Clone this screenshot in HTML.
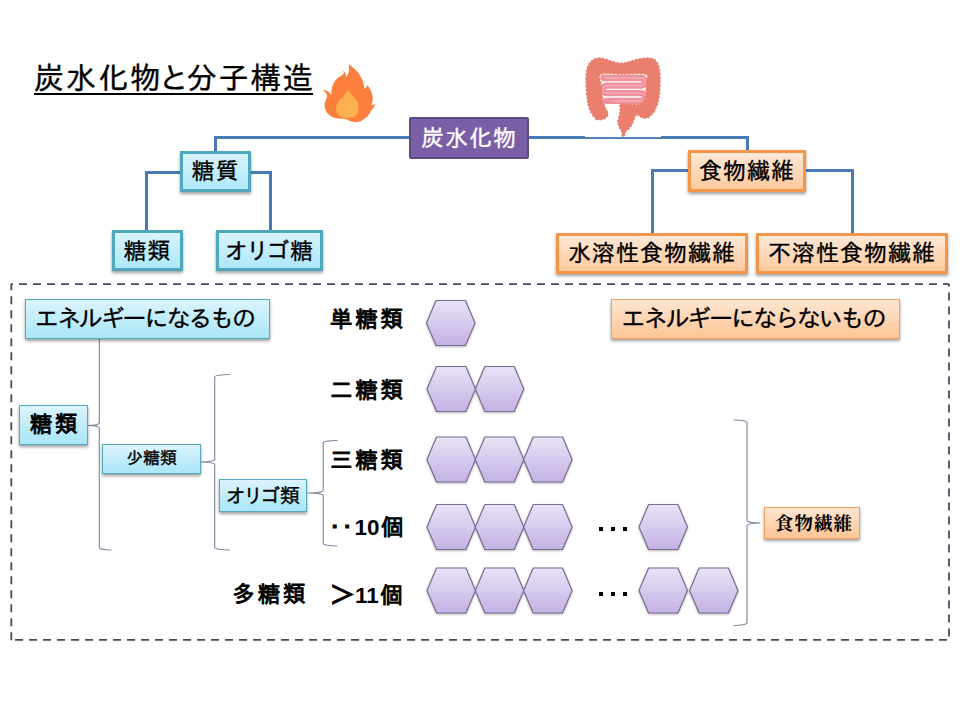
<!DOCTYPE html>
<html lang="ja">
<head>
<meta charset="utf-8">
<title>炭水化物と分子構造</title>
<style>
html,body{margin:0;padding:0;background:#fff;}
body{width:960px;height:720px;overflow:hidden;position:relative;
  font-family:"Liberation Sans","IPAGothic","Noto Sans CJK JP",sans-serif;color:#000;}
#slide{position:absolute;left:0;top:0;width:960px;height:720px;overflow:hidden;background:#fff;}
svg.layer{position:absolute;left:0;top:0;}
.t{position:absolute;white-space:nowrap;line-height:1;}
.box{position:absolute;box-sizing:border-box;display:flex;align-items:center;justify-content:center;
  white-space:nowrap;line-height:1;font-size:24px;}
.teal,.orange,.purple{font-size:23px;letter-spacing:1px;}
.teal{border:3px solid #4fa8bc;background:linear-gradient(#d9f3fc,#aee8f9);box-shadow:0 2px 3px rgba(0,0,0,.38);}
.orange{border:3px solid #f3954a;background:linear-gradient(#fee9d7,#fdc99c);box-shadow:0 2px 3px rgba(0,0,0,.38);}
.purple{border:2px solid #5f4a80;background:#7b5fa6;color:#fff;border-radius:2px;}
.teal1{border:1px solid #55a9bd;background:linear-gradient(#dcf4fc,#a9e6f8);box-shadow:0 2px 3px rgba(0,0,0,.38);}
.orange1{border:1px solid #f2a063;background:linear-gradient(#fee6d2,#fdc595);box-shadow:0 2px 3px rgba(0,0,0,.38);}
.lbl{font-weight:normal;font-size:22.5px;-webkit-text-stroke:0.95px #000;letter-spacing:2.8px;}
.lbl b{font-weight:bold;-webkit-text-stroke:0;}
#title{left:34px;top:62.5px;font-size:30.5px;letter-spacing:1.5px;}
.k{-webkit-text-stroke:0.33px currentColor;}
.nar{letter-spacing:-2.1px;-webkit-text-stroke:0.32px #000;}
</style>
</head>
<body>
<div id="slide">

<svg class="layer" width="960" height="720" viewBox="0 0 960 720">
  <defs>
    <linearGradient id="hx" x1="0" y1="0" x2="0" y2="1">
      <stop offset="0" stop-color="#e9e3f6"/>
      <stop offset="1" stop-color="#c3b2e4"/>
    </linearGradient>
  </defs>

  <!-- dashed frame -->
  <g id="frame" fill="none" stroke="#424d60" stroke-width="1.8" stroke-dasharray="8 6">
    <line x1="11" y1="284.2" x2="949.2" y2="284.2" stroke-dashoffset="6"/>
    <line x1="11.3" y1="284" x2="11.3" y2="640.5" stroke-dashoffset="1.75"/>
    <line x1="949" y1="284" x2="949" y2="640.5" stroke-dashoffset="5.5"/>
    <line x1="11.3" y1="639.8" x2="949.2" y2="639.8" stroke-dashoffset="10.25"/>
  </g>

  <!-- tree connectors -->
  <g fill="none" stroke="#4a7bb7" stroke-width="3" stroke-linejoin="miter">
    <path d="M215.5,152 V137.5 H747.5 V152"/>
    <path d="M182,172.5 H146.5 V231"/>
    <path d="M250,172.5 H270.5 V231"/>
    <path d="M689,170.5 H652.5 V234"/>
    <path d="M805,170.5 H852.5 V234"/>
  </g>

  <!-- braces -->
  <g id="braces" fill="none" stroke="#7f8a9d" stroke-width="1.15" stroke-linecap="round" stroke-linejoin="round">
    <path d="M111,301 A11.700000000000003,2.4 0 0 0 99.3,303.4 V423.1 A11.299999999999997,2.4 0 0 1 88,425.5 A11.299999999999997,2.4 0 0 1 99.3,427.9 V547.6 A11.700000000000003,2.4 0 0 0 111,550"/>
    <path d="M229.5,374.5 A14.800000000000011,2.4 0 0 0 214.7,376.9 V459.6 A13.699999999999989,2.4 0 0 1 201,462 A13.699999999999989,2.4 0 0 1 214.7,464.4 V547.6 A14.800000000000011,2.4 0 0 0 229.5,550"/>
    <path d="M337,440.5 A13.800000000000011,2.4 0 0 0 323.2,442.9 V490.6 A15.199999999999989,2.4 0 0 1 308,493 A15.199999999999989,2.4 0 0 1 323.2,495.4 V543.6 A13.800000000000011,2.4 0 0 0 337,546"/>
    <path d="M734,420 A13,2.4 0 0 1 747,422.4 V520.6 A13,2.4 0 0 0 760,523 A13,2.4 0 0 0 747,525.4 V623.1 A13,2.4 0 0 1 734,625.5"/>
  </g>

  <!-- hexagons -->
  <g id="hexes" fill="url(#hx)" stroke="#7a6c93" stroke-width="1.2" stroke-linejoin="round" style="filter:drop-shadow(0 1px 1.2px rgba(0,0,0,.28));">
    <polygon points="426.5,323.0 436.1,300.5 465.4,300.5 475.0,323.0 465.4,345.5 436.1,345.5"/>
    <polygon points="427.0,389.0 436.6,366.5 465.9,366.5 475.5,389.0 465.9,411.5 436.6,411.5"/><polygon points="475.3,389.0 484.9,366.5 514.2,366.5 523.8,389.0 514.2,411.5 484.9,411.5"/>
    <polygon points="427.0,459.5 436.6,437.0 465.9,437.0 475.5,459.5 465.9,482.0 436.6,482.0"/><polygon points="475.3,459.5 484.9,437.0 514.2,437.0 523.8,459.5 514.2,482.0 484.9,482.0"/><polygon points="523.6,459.5 533.2,437.0 562.5,437.0 572.1,459.5 562.5,482.0 533.2,482.0"/>
    <polygon points="427.0,527.0 436.6,504.5 465.9,504.5 475.5,527.0 465.9,549.5 436.6,549.5"/><polygon points="475.3,527.0 484.9,504.5 514.2,504.5 523.8,527.0 514.2,549.5 484.9,549.5"/><polygon points="523.6,527.0 533.2,504.5 562.5,504.5 572.1,527.0 562.5,549.5 533.2,549.5"/>
    <polygon points="639.0,527.0 648.6,504.5 677.9,504.5 687.5,527.0 677.9,549.5 648.6,549.5"/>
    <polygon points="427.0,590.5 436.6,568.0 465.9,568.0 475.5,590.5 465.9,613.0 436.6,613.0"/><polygon points="475.3,590.5 484.9,568.0 514.2,568.0 523.8,590.5 514.2,613.0 484.9,613.0"/><polygon points="523.6,590.5 533.2,568.0 562.5,568.0 572.1,590.5 562.5,613.0 533.2,613.0"/>
    <polygon points="639.0,590.5 648.6,568.0 677.9,568.0 687.5,590.5 677.9,613.0 648.6,613.0"/><polygon points="689.5,590.5 699.1,568.0 728.4,568.0 738.0,590.5 728.4,613.0 699.1,613.0"/>
  </g>

  <!-- ellipsis dots -->
  <g id="dots" fill="#000">
    <rect x="599" y="527" width="4" height="4"/><rect x="611" y="527" width="4" height="4"/><rect x="623" y="527" width="4" height="4"/>
    <rect x="599" y="592" width="4" height="4"/><rect x="611" y="592" width="4" height="4"/><rect x="623" y="592" width="4" height="4"/>
  </g>

  <!-- ICONS -->
  <g id="fire">
    <path fill="#fd7f3d" d="M348.3,64.2 C352,66 356.5,70 359.5,74.5 C362.5,79 364,84 364.2,89 C365.5,88 366.8,86.8 367.3,85.2 C369.5,87.5 371.5,91.5 372.5,96 C373.2,99.5 372.6,102.5 371.2,105.2 C372.8,105.2 374.2,104.6 375.2,103.8 C374.6,106.5 373,109 371,111 C369.5,114 368,116 365.8,117.8 C362.8,120.5 359.5,122 355.8,122.3 C352,122.2 348.2,120 344.4,118.8 C340.8,118.6 337.2,118.6 333.8,117.4 C330.8,116.3 328.6,114.8 327.2,113 C325.3,110.5 324.5,107.6 324.6,104.6 C324.8,101.6 326.4,98.8 327.3,96 C326.6,93.5 324.8,91.2 322.5,89.9 C324.6,89.8 326.6,90.4 328.2,91.6 C329.6,92.6 330.6,93.8 331.4,95 C331.2,91.5 331.6,88.5 332.6,85.8 C333.4,83.2 334.6,81.2 336.2,79.4 C337.8,77.8 339.6,76.8 341.3,75.8 C342.8,75 343.9,73.9 343.9,72.6 C343.8,71.6 342.8,70.8 341.8,70.3 C344,70.8 345.4,72.6 345.8,74.6 C346,75.6 346,76.6 345.9,77.4 C347.4,75.6 348.6,73.4 349,70.8 C349.3,68.6 349,66.2 348.3,64.2 Z"/>
    <path fill="#fcb04e" d="M349,89.8 C349.4,92 350.6,93.6 352,95 C353.6,96.6 355.2,98.2 356.4,100 C357.6,101.8 358.4,103.6 358.5,105.6 C358.6,108.4 358.4,111 357.4,113.4 C356.6,115.2 355.4,116.4 353.8,117.1 C351.2,118.2 348.2,118.4 345.4,118.1 C342.6,117.6 340,116.4 338.1,114.4 C336.6,112.8 335.8,110.6 336,108.2 C336.2,105.2 337.8,102.4 339.7,99.9 C340.2,98.9 340.8,97.9 341.2,96.9 C341.8,97.9 342.2,98.9 342.6,99.8 C343.2,97.4 344.2,95.4 345.4,93.6 C346.4,92.2 347.8,91 349,89.8 Z"/>
  </g>
  <g id="gut" stroke-linecap="round" stroke-linejoin="round">
    <rect x="585" y="52" width="76" height="85.1" fill="#fff" stroke="none"/>
    <path d="M603.5,78 H641.4 a3.8,3.8 0 0 1 0,7.6 H606.6 a3.8,3.8 0 0 0 0,7.6 H641.4 a3.8,3.8 0 0 1 0,7.6 H606" fill="none" stroke="#f0909c" stroke-width="6.3"/>
    <path d="M606,78 H641.4 a3.8,3.8 0 0 1 0,7.6 H606.6 a3.8,3.8 0 0 0 0,7.6 H641.4 a3.8,3.8 0 0 1 0,7.6 H612" fill="none" stroke="#f4a6b0" stroke-width="1.8"/>
    <path d="M596.0,118.3 C594.2,116.8 591.9,113.5 590.5,110.5 C589.1,107.5 588.4,104.2 587.8,100.0 C587.1,95.8 586.7,89.7 586.6,85.0 C586.5,80.3 586.5,75.5 587.0,72.0 C587.5,68.5 588.2,66.1 589.5,64.0 C590.8,61.9 592.8,60.5 594.5,59.6 C596.2,58.7 598.1,58.6 600.0,58.6 C601.9,58.6 603.8,59.2 606.0,59.8 C608.2,60.4 610.6,61.6 613.0,62.2 C615.4,62.8 618.0,63.5 620.5,63.6 C623.0,63.7 625.4,63.2 628.0,62.6 C630.6,62.0 633.2,60.9 636.0,60.2 C638.8,59.5 642.3,58.8 645.0,58.6 C647.7,58.4 650.1,58.4 652.0,59.0 C653.9,59.6 655.4,60.6 656.6,62.4 C657.8,64.2 658.5,67.1 659.0,70.0 C659.5,72.9 659.6,76.3 659.6,80.0 C659.6,83.7 659.6,88.2 659.2,92.0 C658.8,95.8 658.1,99.7 657.2,103.0 C656.3,106.3 655.0,109.4 653.6,111.6 C652.2,113.8 650.5,115.4 649.0,116.4 C647.5,117.4 646.1,117.7 644.6,117.6 C643.1,117.5 641.4,116.7 640.0,116.0 C638.6,115.3 637.3,113.4 636.4,113.6 C635.5,113.8 635.1,115.5 634.4,117.0 C633.7,118.5 633.2,120.8 632.4,122.5 C631.6,124.2 630.5,126.1 629.4,127.5 C628.3,128.9 626.7,129.5 625.6,131.0 C624.5,132.5 623.6,136.6 623.0,136.6 C622.4,136.6 622.6,132.8 622.0,131.0 C621.4,129.2 619.8,127.7 619.2,126.0 C618.6,124.3 618.3,122.8 618.4,121.0 C618.5,119.2 619.6,117.0 620.0,115.0 C620.4,113.0 620.4,110.8 620.6,109.0 C620.8,107.2 619.4,105.1 621.0,104.4 C622.6,103.7 626.5,104.9 630.0,104.8 C633.5,104.7 639.3,105.6 642.0,104.0 C644.7,102.4 645.4,98.3 646.2,95.0 C647.0,91.7 646.8,87.5 646.8,84.0 C646.8,80.5 650.4,75.7 646.4,74.0 C642.4,72.3 630.7,73.6 623.0,73.6 C615.3,73.6 604.1,72.1 600.4,74.0 C596.7,75.9 600.6,81.2 600.8,85.0 C601.0,88.8 601.3,93.5 601.8,97.0 C602.3,100.5 603.1,103.3 604.0,106.0 C604.9,108.7 607.1,111.1 607.4,113.0 C607.7,114.9 607.1,116.2 606.0,117.2 C604.9,118.2 602.7,119.0 601.0,119.2 C599.3,119.4 597.8,119.8 596.0,118.3 Z" fill="#ea7f6e" stroke="#ea7f6e" stroke-width="0.8"/>
    <path d="M596.0,118.3 C594.2,116.8 591.9,113.5 590.5,110.5 C589.1,107.5 588.4,104.2 587.8,100.0 C587.1,95.8 586.7,89.7 586.6,85.0 C586.5,80.3 586.5,75.5 587.0,72.0 C587.5,68.5 588.2,66.1 589.5,64.0 C590.8,61.9 592.8,60.5 594.5,59.6 C596.2,58.7 598.1,58.6 600.0,58.6 C601.9,58.6 603.8,59.2 606.0,59.8 C608.2,60.4 610.6,61.6 613.0,62.2 C615.4,62.8 618.0,63.5 620.5,63.6 C623.0,63.7 625.4,63.2 628.0,62.6 C630.6,62.0 633.2,60.9 636.0,60.2 C638.8,59.5 642.3,58.8 645.0,58.6 C647.7,58.4 650.1,58.4 652.0,59.0 C653.9,59.6 655.4,60.6 656.6,62.4 C657.8,64.2 658.5,67.1 659.0,70.0 C659.5,72.9 659.6,76.3 659.6,80.0 C659.6,83.7 659.6,88.2 659.2,92.0 C658.8,95.8 658.1,99.7 657.2,103.0 C656.3,106.3 655.0,109.4 653.6,111.6 C652.2,113.8 650.5,115.4 649.0,116.4 C647.5,117.4 646.1,117.7 644.6,117.6 C643.1,117.5 641.4,116.7 640.0,116.0 C638.6,115.3 637.3,113.4 636.4,113.6 C635.5,113.8 635.1,115.5 634.4,117.0 C633.7,118.5 633.2,120.8 632.4,122.5 C631.6,124.2 630.5,126.1 629.4,127.5 C628.3,128.9 626.7,129.5 625.6,131.0 C624.5,132.5 623.6,136.6 623.0,136.6 C622.4,136.6 622.6,132.8 622.0,131.0 C621.4,129.2 619.8,127.7 619.2,126.0 C618.6,124.3 618.3,122.8 618.4,121.0 C618.5,119.2 619.6,117.0 620.0,115.0 C620.4,113.0 620.4,110.8 620.6,109.0 C620.8,107.2 619.4,105.1 621.0,104.4 C622.6,103.7 626.5,104.9 630.0,104.8 C633.5,104.7 639.3,105.6 642.0,104.0 C644.7,102.4 645.4,98.3 646.2,95.0 C647.0,91.7 646.8,87.5 646.8,84.0 C646.8,80.5 650.4,75.7 646.4,74.0 C642.4,72.3 630.7,73.6 623.0,73.6 C615.3,73.6 604.1,72.1 600.4,74.0 C596.7,75.9 600.6,81.2 600.8,85.0 C601.0,88.8 601.3,93.5 601.8,97.0 C602.3,100.5 603.1,103.3 604.0,106.0 C604.9,108.7 607.1,111.1 607.4,113.0 C607.7,114.9 607.1,116.2 606.0,117.2 C604.9,118.2 602.7,119.0 601.0,119.2 C599.3,119.4 597.8,119.8 596.0,118.3 Z" fill="none" stroke="#ea7f6e" stroke-width="2.6" stroke-dasharray="0.1 3.7"/>
  </g>
</svg>

<div id="title" class="t" style="-webkit-text-stroke:0.32px #000;"><span style="display:inline-block;position:relative;">炭水化物<span style="margin:0 -4.2px 0 -3.3px;">と</span>分子構造<span style="position:absolute;left:0;right:1.5px;top:30px;height:2px;background:#000;"></span></span></div>

<div class="box purple k" style="left:409px;top:117px;width:120px;height:42px;">炭水化物</div>
<div class="box teal k" style="left:180px;top:151px;width:71px;height:41px;">糖質</div>
<div class="box teal k" style="left:112px;top:230px;width:71px;height:41px;padding-top:1px;">糖類</div>
<div class="box teal k" style="left:216px;top:230px;width:107px;height:41px;padding-top:1px;"><span style="letter-spacing:-2.2px;">オリ</span><span style="letter-spacing:0.5px;">ゴ</span>糖</div>
<div class="box orange k" style="left:688px;top:150px;width:118px;height:42px;">食物繊維</div>
<div class="box orange k" style="left:556px;top:233px;width:192px;height:41px;">水溶性食物繊維</div>
<div class="box orange k" style="left:756px;top:233px;width:192px;height:41px;">不溶性食物繊維</div>

<div class="box teal1 k nar" style="left:25px;top:299px;width:245px;height:40px;padding-right:6px;">エネルギーになるもの</div>
<div class="box orange1 k nar" style="left:611px;top:299px;width:289px;height:40px;padding-right:5px;">エネルギーにならないもの</div>

<div class="box teal1 lbl" style="left:19px;top:405px;width:69px;height:40px;padding:1px 0 0 3px;">糖類</div>
<div class="box teal1 k" style="left:102px;top:444px;width:99px;height:30px;font-size:17px;padding-bottom:1px;-webkit-text-stroke:0.4px #000;">少糖類</div>
<div class="box teal1 k" style="left:219px;top:479px;width:88px;height:33px;font-size:20px;"><span style="letter-spacing:-3px;">オリ</span>ゴ類</div>
<div class="box orange1" style="left:764px;top:507px;width:96px;height:32px;font-size:18.5px;letter-spacing:1px;padding:3px 0 0 4px;font-weight:bold;font-family:'Liberation Serif','Noto Serif CJK SC',serif;">食物繊維</div>

<div class="t lbl" style="left:330px;top:308.5px;">単糖類</div>
<div class="t lbl" style="left:330px;top:379.5px;">二糖類</div>
<div class="t lbl" style="left:330px;top:449.5px;">三糖類</div>
<div class="t lbl" style="left:328.4px;top:517px;letter-spacing:0;"><span style="margin:0 -5.05px;">・</span><span style="margin:0 -5.05px;">・</span><b style="margin:0 1.5px 0 1.2px;">10</b>個</div>
<div class="t lbl" style="left:232.5px;top:584px;">多糖類</div>
<div class="t lbl" style="left:331px;top:584.5px;letter-spacing:0;"><span style="-webkit-text-stroke:1.5px #000;">＞</span><b style="margin:0 1.5px 0 1.5px;">11</b>個</div>

</div>
</body>
</html>
